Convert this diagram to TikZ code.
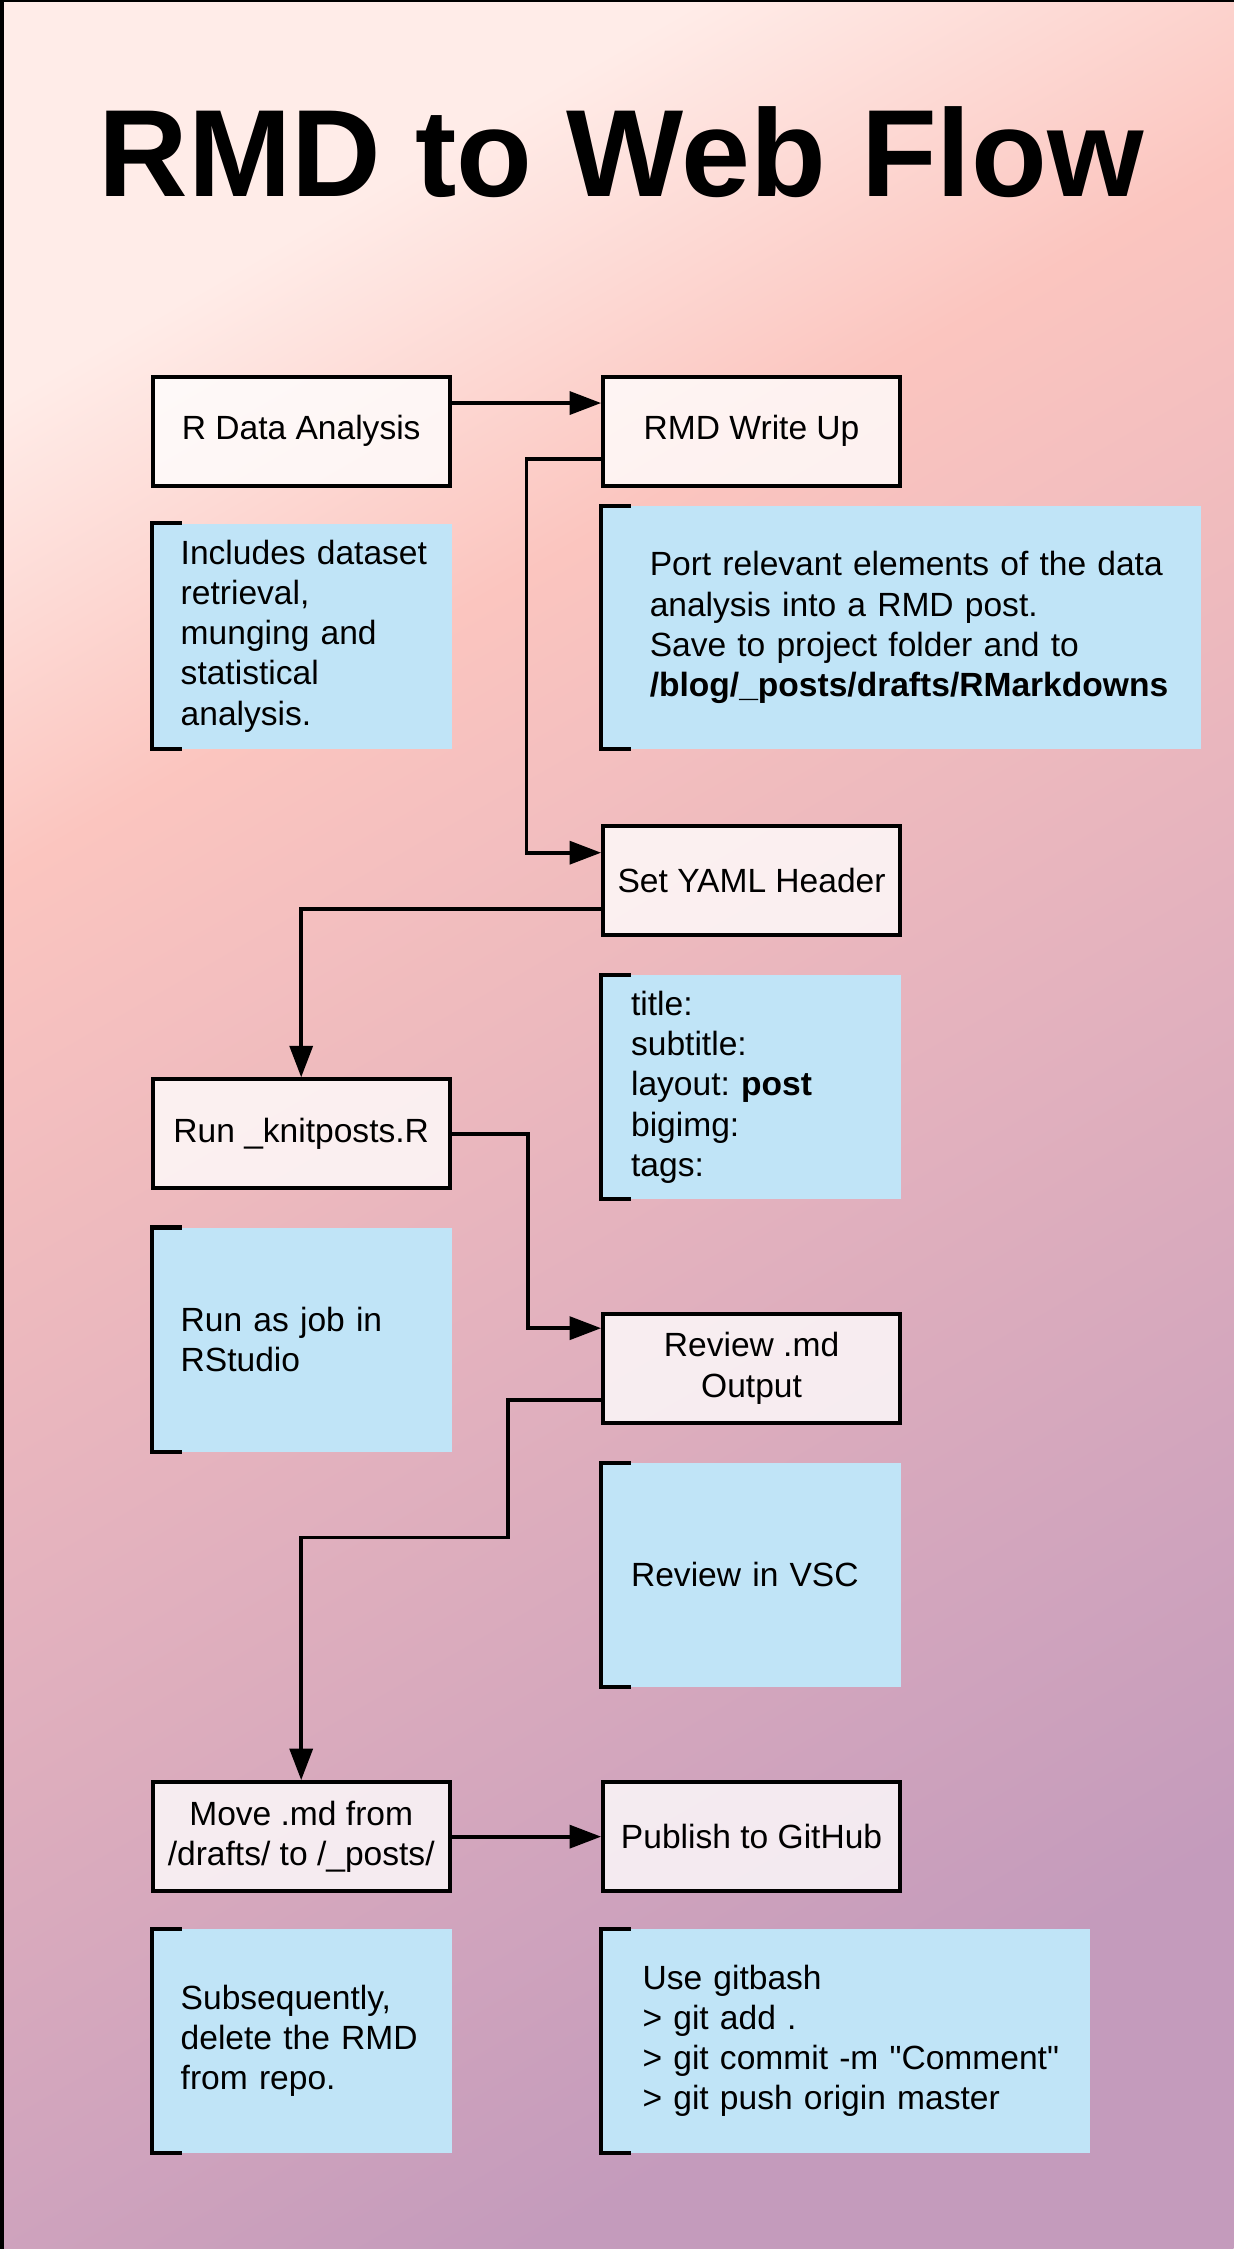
\documentclass[tikz,border=0pt]{standalone}
\usepackage{fontspec}
\setmainfont{Liberation Sans}
\usetikzlibrary{arrows.meta}
\frenchspacing

\definecolor{bglight}{RGB}{255,236,232}
\definecolor{bgsalmon}{RGB}{251,197,191}
\definecolor{bgrose}{RGB}{232,181,190}
\definecolor{bgmauve}{RGB}{196,155,188}
\definecolor{notefill}{RGB}{192,228,247}

\pgfdeclareverticalshading{flowbg}{100bp}{color(0bp)=(bgmauve); color(25bp)=(bgmauve);
  color(50bp)=(bgrose); color(64bp)=(bgsalmon); color(75bp)=(bglight); color(100bp)=(bglight)}

\tikzset{
    boxfont/.style={font=\fontsize{23.4}{28}\selectfont},
    stepbox/.style={draw, line width=2.8pt, fill=white, fill opacity=0.78, text opacity=1,
        minimum width=207pt, minimum height=76pt, inner sep=0pt, align=center, boxfont},
    notebox/.style={fill=notefill, minimum height=156pt, inner xsep=1pt, inner ysep=0pt,
        align=left, boxfont},
    noteinset/.style={execute at begin node={\leftskip=#1\relax}},
    bracket/.style={line width=2.8pt},
    flow/.style={line width=2.6pt, -{Triangle[length=22pt,width=16pt]}}
}

\begin{document}
\begin{tikzpicture}[x=1pt, y=-1pt]
    \useasboundingbox (0,0) rectangle (860,1568);
    \shade[shading=flowbg, shading angle=30] (0,0) rectangle (860,1568);
    \draw[line width=3pt] (1.5,0) -- (1.5,1568);
    \draw[line width=1.5pt] (0,0.75) -- (860,0.75);

    % title
    \node[anchor=base, font=\fontsize{86.5}{100}\selectfont\bfseries] (title) at (433,137) {RMD to Web Flow};

    % steps
    \node[stepbox] (rda) at (210,300.5) {R Data Analysis};
    \node[stepbox] (rmd) at (524,300.5) {RMD Write Up};
    \node[stepbox] (yaml) at (524,614) {Set YAML Header};
    \node[stepbox] (knit) at (210,790.5) {Run \_knitposts.R};
    \node[stepbox] (review) at (524,954) {Review .md\\Output};
    \node[stepbox] (move) at (210,1280.5) {Move .md from\\/drafts/ to /\_posts/};
    \node[stepbox] (publish) at (524,1280.5) {Publish to GitHub};

    % notes
    \node[notebox, text width=207pt, noteinset=19pt, minimum height=157pt] (incl) at (210.5,443.5)
        {Includes dataset\\retrieval,\\munging and\\statistical\\analysis.};
    \node[notebox, text width=416pt, noteinset=33pt, minimum height=169pt] (port) at (628,437.5)
        {Port relevant elements of the data\\analysis into a RMD post.\\Save to project folder and to\\\textbf{/blog/\_posts/drafts/RMarkdowns}};
    \node[notebox, text width=207pt, noteinset=20pt] (yamlkeys) at (523.5,758)
        {title:\\subtitle:\\layout: \textbf{post}\\bigimg:\\tags:};
    \node[notebox, text width=207pt, noteinset=19pt] (rsjob) at (210.5,934)
        {Run as job in\\RStudio};
    \node[notebox, text width=207pt, noteinset=20pt] (vsc) at (523.5,1098)
        {Review in VSC};
    \node[notebox, text width=207pt, noteinset=19pt] (cleanup) at (210.5,1423)
        {Subsequently,\\delete the RMD\\from repo.};
    \node[notebox, text width=339pt, noteinset=28pt] (gitcmd) at (589.5,1423)
        {Use gitbash\\> git add .\\> git commit -m \textquotedbl Comment\textquotedbl\\> git push origin master};

    \foreach \n in {incl,port,yamlkeys,rsjob,vsc,cleanup,gitcmd}
        \draw[bracket] ([xshift=21pt]\n.north west) -- (\n.north west) -- (\n.south west) -- ++(21pt,0);

    % flow
    \draw[flow] ([yshift=19.5pt]rda.east) -- ([yshift=19.5pt]rmd.west);
    \draw[flow] ([yshift=-19.5pt]rmd.west) -- ++(-52,0) |- ([yshift=19.5pt]yaml.west);
    \draw[flow] ([yshift=-19.5pt]yaml.west) -| (knit.north);
    \draw[flow] (knit.east) -- ++(53,0) |- ([yshift=28pt]review.west);
    \draw[flow] ([yshift=-22pt]review.west) -- ++(-65,0) -- ++(0,96) -| (move.north);
    \draw[flow] (move.east) -- (publish.west);
\end{tikzpicture}
\end{document}
